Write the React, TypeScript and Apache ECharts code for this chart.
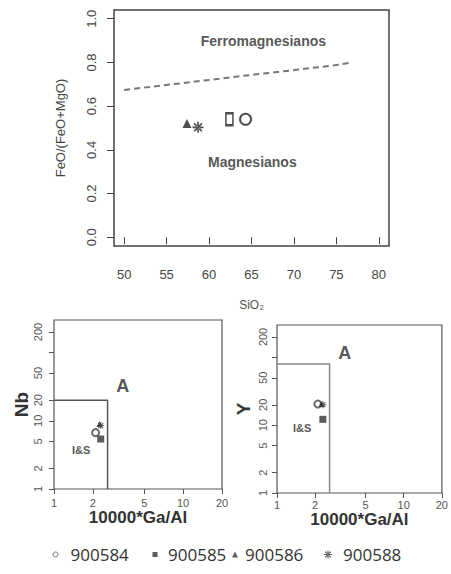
import React, { useEffect, useRef } from 'react';
import * as echarts from 'echarts';

const samples = ['900584', '900585', '900586', '900588'];
const sio2 = [64.3, 62.4, 57.4, 58.7];
const feoRatio = [0.54, 0.54, 0.521, 0.503];
const gaAl = [2.1, 2.3, 2.25, 2.3];
const nb = [6.7, 5.4, 9.0, 8.5];
const yElem = [20.5, 12.2, 20.5, 20];

const boundarySio2 = [50, 60, 65, 70, 75, 76.6];
const boundaryRatio = [0.674, 0.72, 0.743, 0.765, 0.788, 0.799];

const gaAlLimit = 2.6;
const nbLimit = 20;
const yLimit = 80;

const sio2Ticks = [50, 55, 60, 65, 70, 75, 80];
const ratioTicks = [0, 0.2, 0.4, 0.6, 0.8, 1.0];
const gaAlTicks = [1, 2, 5, 10, 20];
const traceTicks = [1, 2, 5, 10, 20, 50, 100, 200];
const traceLabels = [1, 2, 5, 10, 20, 50, 200];

const fieldNamesTop = ['Ferromagnesianos', 'Magnesianos'];
const fieldTopX = [66.4, 65.1];
const fieldTopY = [0.9, 0.346];
const fieldNamesLog = ['A', 'I&S'];
const fieldNbX = [3.41, 1.62];
const fieldNbY = [32.4, 3.73];
const fieldYX = [3.43, 1.58];
const fieldYY = [115, 9.2];

const FONT = '"Liberation Sans", Arial, sans-serif';
const ASTERISK =
  'path://M-1.5,-10L1.5,-10L1.5,10L-1.5,10Z M-10,-1.5L10,-1.5L10,1.5L-10,1.5Z M6.01,-8.13L8.13,-6.01L-6.01,8.13L-8.13,6.01Z M-6.01,-8.13L-8.13,-6.01L6.01,8.13L8.13,6.01Z';

const topSymbols: any[] = [
  { symbol: 'emptyCircle', symbolSize: 11, itemStyle: { color: '#222', borderWidth: 2 } },
  { symbol: 'emptyRect', symbolSize: [7, 12], itemStyle: { color: '#222', borderWidth: 2 } },
  { symbol: 'triangle', symbolSize: 9, itemStyle: { color: '#222' } },
  { symbol: ASTERISK, symbolSize: 11, itemStyle: { color: '#222' } },
];
const lowSymbols: any[] = [
  { symbol: 'emptyCircle', symbolSize: 7, itemStyle: { color: '#444', borderWidth: 1.3 } },
  { symbol: 'rect', symbolSize: 7, itemStyle: { color: '#333' } },
  { symbol: 'triangle', symbolSize: 6, itemStyle: { color: '#333' } },
  { symbol: ASTERISK, symbolSize: 7, itemStyle: { color: '#333' } },
];
const legendIcons: any[] = [
  { icon: 'circle', itemStyle: { color: '#fff', borderColor: '#444', borderWidth: 1 }, size: 5, left: 52.5, pad: 7.5 },
  { icon: 'rect', itemStyle: { color: '#333' }, size: 5, left: 152.5, pad: 5.5 },
  { icon: 'triangle', itemStyle: { color: '#333' }, size: 6, left: 232, pad: 2 },
  { icon: ASTERISK, itemStyle: { color: '#333' }, size: 8, left: 324, pad: 6 },
];

const labelFmt = (v: number) => String(v);

function logX(gridIndex: number, margin: number, nameGap: number) {
  return {
    type: 'log', logBase: 10, gridIndex, min: 1, max: 20,
    splitLine: { show: false }, axisLine: { show: false },
    axisTick: { show: true, length: 5, customValues: gaAlTicks, lineStyle: { color: '#555' } },
    axisLabel: { customValues: gaAlTicks, formatter: labelFmt, margin, fontSize: 11, color: '#555', fontFamily: FONT },
    name: '10000*Ga/Al', nameLocation: 'middle', nameGap,
    nameTextStyle: { fontSize: 17, fontWeight: 'bold', color: '#333', fontFamily: FONT },
  };
}
function logY(gridIndex: number, name: string, margin: number, nameGap: number) {
  return {
    type: 'log', logBase: 10, gridIndex, min: 1, max: 300,
    splitLine: { show: false }, axisLine: { show: false },
    axisTick: { show: true, length: 5, customValues: traceTicks, lineStyle: { color: '#555' } },
    axisLabel: { customValues: traceLabels, formatter: labelFmt, rotate: 90, margin, fontSize: 11, color: '#555', fontFamily: FONT },
    name, nameLocation: 'middle', nameGap,
    nameTextStyle: { fontSize: 19, fontWeight: 'bold', color: '#333', fontFamily: FONT },
  };
}

export default function App() {
  const ref = useRef<HTMLDivElement>(null);
  useEffect(() => {
    if (!ref.current) return;
    const chart = echarts.init(ref.current, undefined, { renderer: 'svg' });
    const series: any[] = [];
    samples.forEach((s, i) => {
      series.push({ type: 'scatter', name: s, xAxisIndex: 0, yAxisIndex: 0, data: [[sio2[i], feoRatio[i]]], ...topSymbols[i] });
      series.push({ type: 'scatter', name: s, xAxisIndex: 1, yAxisIndex: 1, data: [[gaAl[i], nb[i]]], ...lowSymbols[i] });
      series.push({ type: 'scatter', name: s, xAxisIndex: 2, yAxisIndex: 2, data: [[gaAl[i], yElem[i]]], ...lowSymbols[i] });
    });
    series.push({
      type: 'line', name: 'boundary', xAxisIndex: 0, yAxisIndex: 0, symbol: 'none', silent: true,
      data: boundarySio2.map((x, i) => [x, boundaryRatio[i]]),
      lineStyle: { color: '#777', width: 2, type: [6, 4] }, z: 1,
    });
    series.push({
      type: 'line', name: 'nbLimit', xAxisIndex: 1, yAxisIndex: 1, symbol: 'none', silent: true,
      data: [[1, nbLimit], [gaAlLimit, nbLimit], [gaAlLimit, 1]],
      lineStyle: { color: '#555', width: 1.5 }, z: 1,
    });
    series.push({
      type: 'line', name: 'yLimit', xAxisIndex: 2, yAxisIndex: 2, symbol: 'none', silent: true,
      data: [[1, yLimit], [gaAlLimit, yLimit], [gaAlLimit, 1]],
      lineStyle: { color: '#888', width: 1.5 }, z: 1,
    });
    const labelSeries = (xi: number, xs: number[], ys: number[], names: string[], sizes: number[]) => ({
      type: 'scatter', name: 'fields' + xi, xAxisIndex: xi, yAxisIndex: xi, silent: true,
      symbolSize: 1, itemStyle: { color: 'transparent' },
      data: names.map((n, i) => ({
        name: n, value: [xs[i], ys[i]],
        label: { show: true, position: 'inside', formatter: '{b}', fontSize: sizes[i], fontWeight: 'bold', color: '#2a2a2a', fontFamily: FONT },
      })),
    });
    series.push(labelSeries(0, fieldTopX, fieldTopY, fieldNamesTop, [14, 14]));
    series.push(labelSeries(1, fieldNbX, fieldNbY, fieldNamesLog, [18, 11]));
    series.push(labelSeries(2, fieldYX, fieldYY, fieldNamesLog, [18, 11]));

    chart.setOption({
      animation: false,
      backgroundColor: '#fff',
      grid: [
        { left: 114, top: 10, width: 275, height: 236, show: true, borderColor: '#444', borderWidth: 1.5, containLabel: false },
        { left: 54, top: 320, width: 168, height: 169, show: true, borderColor: '#555', borderWidth: 1.2 },
        { left: 277, top: 325, width: 167, height: 168, show: true, borderColor: '#555', borderWidth: 1.2 },
      ],
      xAxis: [
        {
          type: 'value', gridIndex: 0, min: 48.8, max: 81.2,
          splitLine: { show: false }, axisLine: { show: false },
          axisTick: { show: true, length: 7, customValues: sio2Ticks, lineStyle: { color: '#444' } },
          axisLabel: { customValues: sio2Ticks, margin: 22, fontSize: 13, color: '#444', fontFamily: FONT },
          name: 'SiO₂', nameLocation: 'middle', nameGap: 53,
          nameTextStyle: { fontSize: 12, color: '#555', fontFamily: FONT },
        },
        logX(1, 8, 12),
        logX(2, 6, 11),
      ],
      yAxis: [
        {
          type: 'value', gridIndex: 0, min: -0.04, max: 1.04,
          splitLine: { show: false }, axisLine: { show: false },
          axisTick: { show: true, length: 7, customValues: ratioTicks, lineStyle: { color: '#444' } },
          axisLabel: {
            customValues: ratioTicks, rotate: 90, margin: 16, fontSize: 13, color: '#444', fontFamily: FONT,
            formatter: (v: number) => v.toFixed(1),
          },
          name: 'FeO/(FeO+MgO)', nameLocation: 'middle', nameGap: 47,
          nameTextStyle: { fontSize: 13, color: '#444', fontFamily: FONT },
        },
        logY(1, 'Nb', 11, 19),
        logY(2, 'Y', 9, 24),
      ],
      legend: samples.map((s, i) => ({
        left: legendIcons[i].left, top: 546, itemWidth: legendIcons[i].size, itemHeight: legendIcons[i].size,
        selectedMode: false, padding: 0,
        data: [{ name: s, icon: legendIcons[i].icon, itemStyle: legendIcons[i].itemStyle }],
        textStyle: { fontSize: 17, color: '#333', fontFamily: '"Open Sans", sans-serif', padding: [0, 0, 0, legendIcons[i].pad] },
      })),
      series,
    });
    return () => chart.dispose();
  }, []);
  return <div ref={ref} style={{ position: 'absolute', left: 0, top: 0, width: 451, height: 574, background: '#fff' }} />;
}
